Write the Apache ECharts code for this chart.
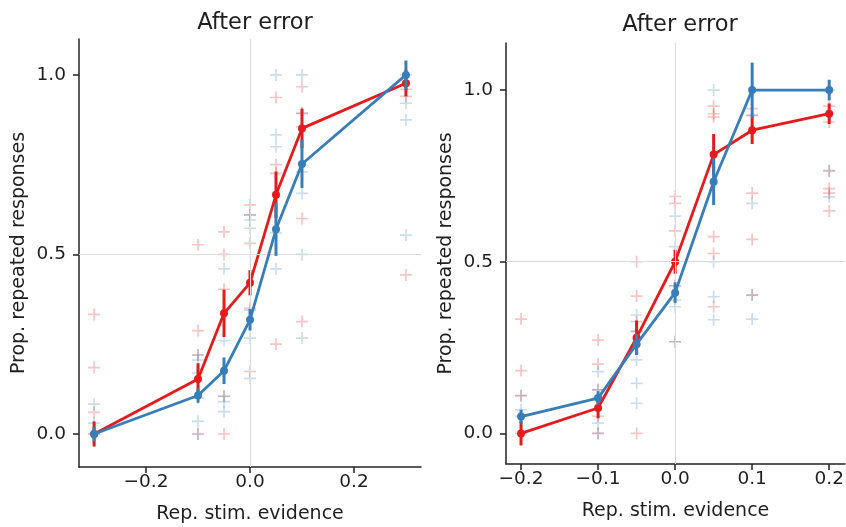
<!DOCTYPE html>
<html>
<head>
<meta charset="utf-8">
<script src="https://cdn.jsdelivr.net/npm/echarts@6/dist/echarts.min.js"></script>
<style>
html,body{margin:0;padding:0;background:#fff;}
#chart{width:846px;height:527px;}
</style>
</head>
<body>
<div id="chart"></div>
<script>
// ---------- DATA ----------
const titleText = 'After error';
const xName = 'Rep. stim. evidence';
const yName = 'Prop. repeated responses';

// Left panel
const xsLeft = [-0.3, -0.1, -0.05, 0, 0.05, 0.1, 0.3];
const redMeanLeft = [0.0, 0.153, 0.336, 0.421, 0.666, 0.851, 0.977];
const redErrLeft = [0.035, 0.044, 0.066, 0.035, 0.065, 0.055, 0.037];
const blueMeanLeft = [0.0, 0.107, 0.176, 0.318, 0.570, 0.752, 1.0];
const blueErrLeft = [0.02, 0.02, 0.037, 0.03, 0.074, 0.067, 0.04];
const redPtsLeft = [
  [0.333, 0.185, 0.06, 0.0],
  [0.527, 0.288, 0.22, 0.0],
  [0.563, 0.5, 0.403, 0.105, 0.0],
  [0.638, 0.61, 0.531, 0.35, 0.174],
  [0.937, 0.75, 0.726, 0.25],
  [0.967, 0.893, 0.856, 0.6, 0.313],
  [0.96, 0.94, 0.443]
];
const bluePtsLeft = [
  [0.083, 0.03, 0.0],
  [0.22, 0.206, 0.17, 0.10, 0.035, 0.0],
  [0.46, 0.26, 0.105, 0.09, 0.062],
  [0.61, 0.596, 0.573, 0.345, 0.267, 0.155],
  [1.0, 0.833, 0.80, 0.56, 0.46],
  [1.0, 0.893, 0.73, 0.67, 0.5, 0.267],
  [1.0, 0.921, 0.875, 0.554]
];
const xTicksLeft = [-0.2, 0.0, 0.2];

// Right panel
const xsRight = [-0.2, -0.1, -0.05, 0, 0.05, 0.1, 0.2];
const redMeanRight = [0.0, 0.074, 0.279, 0.5, 0.812, 0.883, 0.931];
const redErrRight = [0.035, 0.03, 0.05, 0.035, 0.06, 0.04, 0.03];
const blueMeanRight = [0.049, 0.103, 0.26, 0.41, 0.733, 1.0, 1.0];
const blueErrRight = [0.02, 0.02, 0.03, 0.03, 0.068, 0.08, 0.03];
const redPtsRight = [
  [0.333, 0.183, 0.11, 0.0],
  [0.272, 0.202, 0.127, 0.05, 0.0],
  [0.5, 0.4, 0.326, 0.297, 0.0],
  [0.69, 0.67, 0.59, 0.43, 0.267],
  [0.953, 0.931, 0.922, 0.573, 0.524, 0.369],
  [0.946, 0.926, 0.70, 0.565, 0.403],
  [0.953, 0.907, 0.764, 0.713, 0.70, 0.648]
];
const bluePtsRight = [
  [0.11, 0.069, 0.05],
  [0.18, 0.127, 0.105, 0.03, 0.0],
  [0.345, 0.297, 0.214, 0.146, 0.088],
  [0.633, 0.544, 0.43, 0.389, 0.369, 0.267],
  [1.0, 0.5, 0.398, 0.331],
  [0.926, 0.67, 0.403, 0.333],
  [1.0, 0.766, 0.689]
];
const xTicksRight = [-0.2, -0.1, 0.0, 0.1, 0.2];
const yTicks = [0.0, 0.5, 1.0];

// ---------- STYLE ----------
const RED = '#e41a1c';
const BLUE = '#377eb8';
const FONT = 'DejaVu Sans';
const TXT = '#1f1f1f';
const PLUS = 'path://M4.3,0H5.7V4.3H10V5.7H5.7V10H4.3V5.7H0V4.3H4.3Z';

function fmt(v) {
  const s = Math.abs(v).toFixed(1);
  return v < -1e-9 ? '\u2212' + s : s;
}

function pts(xs, arr) {
  const out = [];
  xs.forEach((x, i) => arr[i].forEach(y => out.push([x, y])));
  return out;
}
function errData(xs, means, errs) {
  return xs.map((x, i) => [x, means[i] - errs[i], means[i] + errs[i]]);
}
function meanData(xs, means) {
  return xs.map((x, i) => [x, means[i]]);
}

function errSeries(idx, xs, means, errs, color, z) {
  return {
    type: 'custom', xAxisIndex: idx, yAxisIndex: idx, z: z, silent: true,
    data: errData(xs, means, errs),
    renderItem: function (params, api) {
      const p1 = api.coord([api.value(0), api.value(1)]);
      const p2 = api.coord([api.value(0), api.value(2)]);
      return {
        type: 'line',
        shape: { x1: p1[0], y1: p1[1], x2: p2[0], y2: p2[1] },
        style: { stroke: color, lineWidth: 3 }
      };
    }
  };
}
function lineSeries(idx, xs, means, color, z) {
  return {
    type: 'line', xAxisIndex: idx, yAxisIndex: idx, z: z, silent: true,
    data: meanData(xs, means),
    symbol: 'circle', symbolSize: 8, showSymbol: true,
    lineStyle: { color: color, width: 2.8 },
    itemStyle: { color: color },
    animation: false
  };
}
function scatterSeries(idx, xs, arr, color, withRef) {
  const s = {
    type: 'scatter', xAxisIndex: idx, yAxisIndex: idx, z: 1, silent: true,
    data: pts(xs, arr),
    symbol: PLUS, symbolSize: 12,
    itemStyle: { color: color, opacity: 0.26 }
  };
  if (withRef) {
    s.markLine = {
      silent: true, symbol: ['none', 'none'], label: { show: false },
      lineStyle: { color: '#dcdcdc', width: 1, type: 'solid' },
      data: [{ xAxis: 0 }, { yAxis: 0.5 }],
      animation: false
    };
  }
  return s;
}

function xAxisCfg(idx, min, max, ticks) {
  return {
    type: 'value', gridIndex: idx, min: min, max: max,
    name: xName, nameLocation: 'middle', nameGap: 38,
    nameTextStyle: { fontFamily: FONT, fontSize: 19, color: TXT },
    axisLine: { onZero: false, lineStyle: { color: '#222', width: 1.5 } },
    axisTick: { show: true, inside: false, length: 6, customValues: ticks, lineStyle: { color: '#222', width: 1.5 } },
    axisLabel: { customValues: ticks, formatter: fmt, margin: 6, fontFamily: FONT, fontSize: 18.5, color: TXT },
    splitLine: { show: false }
  };
}
function yAxisCfg(idx, min, max) {
  return {
    type: 'value', gridIndex: idx, min: min, max: max,
    name: yName, nameLocation: 'middle', nameGap: 50, nameRotate: 90,
    nameTextStyle: { fontFamily: FONT, fontSize: 19, color: TXT },
    axisLine: { show: true, onZero: false, lineStyle: { color: '#222', width: 1.5 } },
    axisTick: { show: true, inside: false, length: 6, customValues: yTicks, lineStyle: { color: '#222', width: 1.5 } },
    axisLabel: { customValues: yTicks, formatter: fmt, margin: 13, fontFamily: FONT, fontSize: 18.5, color: TXT },
    splitLine: { show: false }
  };
}

const chart = echarts.init(document.getElementById('chart'), null, { renderer: 'canvas' });
chart.setOption({
  animation: false,
  backgroundColor: '#ffffff',
  title: [
    { text: titleText, left: 250, top: 7, textAlign: 'center',
      textStyle: { fontFamily: FONT, fontSize: 22.5, fontWeight: 'normal', color: TXT } },
    { text: titleText, left: 675, top: 9, textAlign: 'center',
      textStyle: { fontFamily: FONT, fontSize: 22.5, fontWeight: 'normal', color: TXT } }
  ],
  grid: [
    { left: 79, top: 39, width: 342, height: 428, outerBoundsMode: 'none', containLabel: false },
    { left: 506, top: 43, width: 339, height: 421, outerBoundsMode: 'none', containLabel: false }
  ],
  xAxis: [
    xAxisCfg(0, -0.329, 0.329, xTicksLeft),
    xAxisCfg(1, -0.2195, 0.2205, xTicksRight)
  ],
  yAxis: [
    yAxisCfg(0, -0.092, 1.1),
    yAxisCfg(1, -0.089, 1.137)
  ],
  series: [
    scatterSeries(0, xsLeft, redPtsLeft, RED, true),
    scatterSeries(0, xsLeft, bluePtsLeft, BLUE, false),
    errSeries(0, xsLeft, redMeanLeft, redErrLeft, RED, 3),
    lineSeries(0, xsLeft, redMeanLeft, RED, 4),
    errSeries(0, xsLeft, blueMeanLeft, blueErrLeft, BLUE, 5),
    lineSeries(0, xsLeft, blueMeanLeft, BLUE, 6),

    scatterSeries(1, xsRight, redPtsRight, RED, true),
    scatterSeries(1, xsRight, bluePtsRight, BLUE, false),
    errSeries(1, xsRight, redMeanRight, redErrRight, RED, 3),
    lineSeries(1, xsRight, redMeanRight, RED, 4),
    errSeries(1, xsRight, blueMeanRight, blueErrRight, BLUE, 5),
    lineSeries(1, xsRight, blueMeanRight, BLUE, 6)
  ]
});
</script>
</body>
</html>
